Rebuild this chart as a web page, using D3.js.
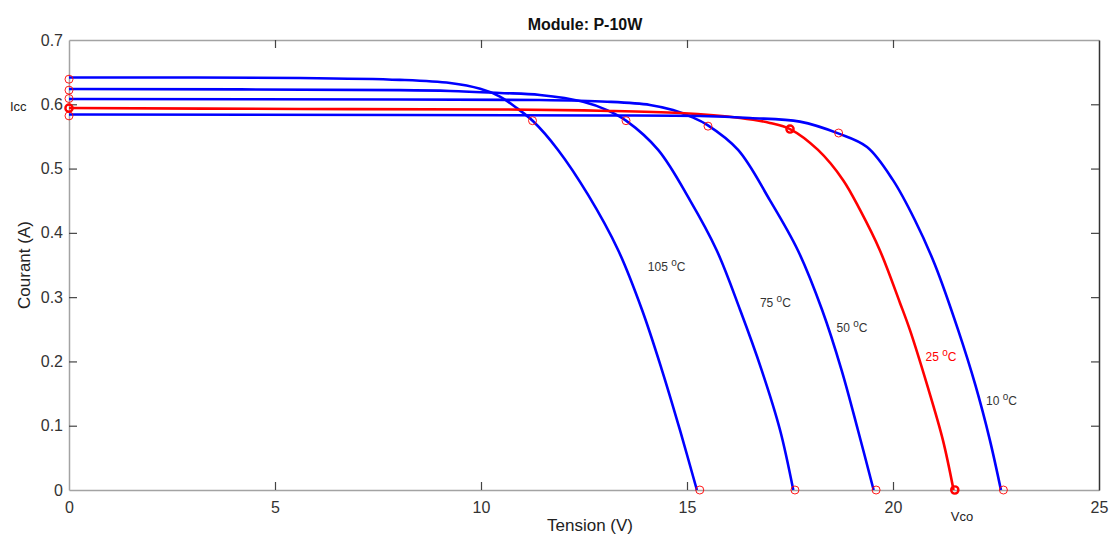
<!DOCTYPE html>
<html>
<head>
<meta charset="utf-8">
<script src="https://cdn.jsdelivr.net/npm/d3@7"></script>
<style>
  body { margin: 0; background: #fff; }
  svg { display: block; font-family: "Liberation Sans", Arial, sans-serif; }
</style>
</head>
<body>
<svg id="chart" width="1110" height="535"></svg>
<script>
// I-V curves: [tension V, courant A]
const curve105 = [[0, 0.6417], [5.61, 0.641], [8.03, 0.638], [9.25, 0.633], [9.98, 0.624], [10.46, 0.612],
  [10.87, 0.594], [11.26, 0.574], [11.87, 0.529], [12.60, 0.459], [13.33, 0.373], [13.91, 0.280],
  [14.39, 0.187], [14.83, 0.093], [15.24, 0]];
const curve75 = [[0, 0.6238], [8.03, 0.622], [9.25, 0.6207], [10.46, 0.6176], [11.43, 0.6145], [12.48, 0.604],
  [13.06, 0.591], [13.52, 0.5745], [14.30, 0.529], [15.07, 0.451], [15.72, 0.373], [16.29, 0.280],
  [16.81, 0.187], [17.26, 0.093], [17.58, 0]];
const curve50 = [[0, 0.6082], [8.03, 0.6075], [11.43, 0.6067], [13.06, 0.604], [14.10, 0.599], [14.66, 0.591],
  [15.12, 0.580], [15.49, 0.568], [16.24, 0.529], [17.01, 0.451], [17.69, 0.373], [18.28, 0.280],
  [18.75, 0.187], [19.15, 0.093], [19.53, 0]];
const curve25 = [[0, 0.5942], [5.61, 0.5927], [10.46, 0.592], [12.89, 0.590], [14.83, 0.5864], [16.29, 0.5787],
  [17.01, 0.571], [17.50, 0.5615], [18.18, 0.529], [18.79, 0.482], [19.20, 0.4356], [19.68, 0.373],
  [20.17, 0.291], [20.41, 0.249], [20.83, 0.163], [21.21, 0.078], [21.47, 0]];
const curve10 = [[0, 0.5841], [8.03, 0.5833], [12.89, 0.5826], [15.32, 0.5818], [16.53, 0.5787], [17.74, 0.573],
  [18.67, 0.5547], [19.37, 0.5336], [20.00, 0.482], [20.53, 0.42], [21.02, 0.35], [21.58, 0.249],
  [22.0, 0.163], [22.35, 0.078], [22.62, 0]];

const curveNames = ["105", "75", "50", "25", "10"];
const curveColors = ["#0000ff", "#0000ff", "#0000ff", "#ff0000", "#0000ff"];
const iscValues = [0.639, 0.622, 0.609, 0.594, 0.582];
const vocValues = [15.31, 17.62, 19.59, 21.50, 22.68];
const mppV = [11.25, 13.52, 15.51, 17.50, 18.68];
const mppI = [0.5745, 0.5745, 0.566, 0.5615, 0.5553];
const labelV = [14.05, 16.77, 18.63, 20.79, 22.26];
const labelI = [0.341, 0.285, 0.246, 0.200, 0.132];

const xTicks = [0, 5, 10, 15, 20, 25];
const yTicks = [0, 0.1, 0.2, 0.3, 0.4, 0.5, 0.6, 0.7];

const curves = [curve105, curve75, curve50, curve25, curve10];

const svg = d3.select("#chart");
const margin = { top: 40, right: 11, bottom: 45, left: 69 },
  width = 1110 - margin.left - margin.right,
  height = 535 - margin.top - margin.bottom;

const x = d3.scaleLinear().domain([0, 25]).range([margin.left, margin.left + width]);
const y = d3.scaleLinear().domain([0, 0.7]).range([margin.top + height, margin.top]);

// axes box
const axisGrey = "#a3a3a3", tickColor = "#444", labelColor = "#333";

const xAxisB = svg.append("g")
  .attr("transform", `translate(0,${y(0)})`)
  .call(d3.axisBottom(x).tickValues(xTicks).tickSize(-8).tickPadding(12).tickSizeOuter(0));
const xAxisT = svg.append("g")
  .attr("transform", `translate(0,${y(0.7)})`)
  .call(d3.axisTop(x).tickValues(xTicks).tickSize(-8).tickFormat("").tickSizeOuter(0));
const yAxisL = svg.append("g")
  .attr("transform", `translate(${x(0)},0)`)
  .call(d3.axisLeft(y).tickValues(yTicks).tickSize(-8).tickPadding(6).tickFormat(d3.format("~g")).tickSizeOuter(0));
const yAxisR = svg.append("g")
  .attr("transform", `translate(${x(25)},0)`)
  .call(d3.axisRight(y).tickValues(yTicks).tickSize(-8).tickFormat("").tickSizeOuter(0));

[xAxisB, xAxisT, yAxisL].forEach(g => g.select(".domain").attr("stroke", axisGrey).attr("stroke-width", 1.5));
yAxisR.select(".domain").attr("stroke", "#333").attr("stroke-width", 1.5);
[xAxisB, xAxisT, yAxisL, yAxisR].forEach(g => {
  g.selectAll(".tick line").attr("stroke", tickColor).attr("stroke-width", 1.2);
  g.selectAll(".tick text").attr("fill", labelColor).style("font-size", "16px");
});
// hide ticks that coincide with the box edges
xAxisB.selectAll(".tick").filter(d => d === 0 || d === 25).select("line").remove();
xAxisT.selectAll(".tick").filter(d => d === 0 || d === 25).select("line").remove();
yAxisL.selectAll(".tick").filter(d => d === 0 || d === 0.7).select("line").remove();
yAxisR.selectAll(".tick").filter(d => d === 0 || d === 0.7).select("line").remove();

// curves
const line = d3.line()
  .x(d => x(d[0]))
  .y(d => y(d[1]))
  .curve(d3.curveCatmullRom.alpha(0.5));

svg.append("g").selectAll("path")
  .data(curves)
  .join("path")
  .attr("d", line)
  .attr("fill", "none")
  .attr("stroke", (d, i) => curveColors[i])
  .attr("stroke-width", 2.6);

// markers: Icc, MPP, Vco
const markers = [];
curveNames.forEach((n, i) => {
  const bold = n === "25";
  markers.push({ v: 0, c: iscValues[i], bold });
  markers.push({ v: mppV[i], c: mppI[i], bold });
  markers.push({ v: vocValues[i], c: 0, bold });
});

svg.append("g").selectAll("circle")
  .data(markers)
  .join("circle")
  .attr("cx", d => x(d.v))
  .attr("cy", d => y(d.c))
  .attr("r", d => d.bold ? 3.6 : 4)
  .attr("fill", "none")
  .attr("stroke", "#ff0000")
  .attr("stroke-width", d => d.bold ? 2.4 : 0.9);

// temperature labels
const lbl = svg.append("g").selectAll("text")
  .data(curveNames)
  .join("text")
  .attr("x", (d, i) => x(labelV[i]))
  .attr("y", (d, i) => y(labelI[i]))
  .attr("fill", (d, i) => d === "25" ? "#ff0000" : "#333")
  .style("font-size", "12px");
lbl.append("tspan").text(d => d + " ");
lbl.append("tspan").attr("dy", -5).style("font-size", "10px").text("o");
lbl.append("tspan").attr("dy", 5).text("C");

// title & axis titles
svg.append("text")
  .attr("x", 585).attr("y", 30)
  .attr("text-anchor", "middle")
  .style("font-size", "16px").style("font-weight", "bold")
  .attr("fill", "#111")
  .text("Module: P-10W");

svg.append("text")
  .attr("transform", `translate(30,${(y(0) + y(0.7)) / 2}) rotate(-90)`)
  .attr("text-anchor", "middle")
  .style("font-size", "17px")
  .attr("fill", "#222")
  .text("Courant (A)");

svg.append("text")
  .attr("x", 590).attr("y", 531)
  .attr("text-anchor", "middle")
  .style("font-size", "17px")
  .attr("fill", "#222")
  .text("Tension (V)");

svg.append("text")
  .attr("x", 10).attr("y", 111)
  .style("font-size", "13px")
  .attr("fill", "#222")
  .text("Icc");

svg.append("text")
  .attr("x", 962).attr("y", 521)
  .attr("text-anchor", "middle")
  .style("font-size", "13px")
  .attr("fill", "#222")
  .text("Vco");
</script>
</body>
</html>
